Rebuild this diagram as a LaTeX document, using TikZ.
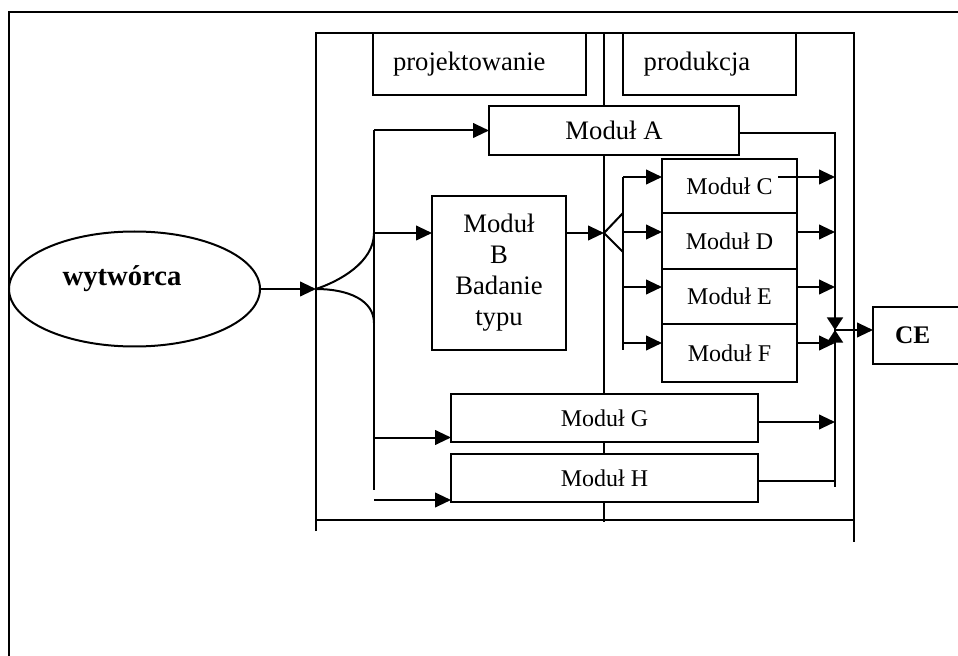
\documentclass[tikz,border=0pt]{standalone}
\usepackage{fontspec}
\setmainfont{Liberation Serif}
\usetikzlibrary{arrows.meta,shapes.geometric,positioning,calc}

\tikzset{
  modbox/.style={draw, fill=white, line width=1.5pt, inner sep=0pt, outer sep=0pt, font=\fontsize{20}{23.25}\selectfont},
  smallbox/.style={modbox, minimum width=101.25pt, font=\fontsize{18}{21}\selectfont},
  tri/.style={-{Triangle[length=12pt,width=11pt]}},
  bowtri/.style={-{Triangle[length=9.5pt,width=12pt]}},
}

\begin{document}
\begin{tikzpicture}[x=0.75pt,y=0.75pt,yscale=-1,xscale=1,line width=1.5pt]
\useasboundingbox (0,0) rectangle (958,656);
\clip (0,0) rectangle (958,656);

%Straight Lines: outer frame
\draw (9,656) -- (9,12.5) -- (958,12.5);
%Straight Lines: inner frame
\draw (316,531) -- (316,33) -- (854,33) -- (854,542);
\draw (316,520) -- (854,520);
\draw (604,33) -- (604,522);

%Shape: Rectangle (headers)
\node[modbox, minimum height=46.5pt, text width=129.75pt, inner xsep=15pt, align=left] (proj) at (479.5,64) {projektowanie};
\node[modbox, minimum height=46.5pt, text width=98.75pt, inner xsep=15.5pt, align=left] (prod) at (709.5,64) {produkcja};

%Shape: Rectangle (modules)
\node[modbox, minimum width=187.5pt, minimum height=36.75pt] (modA) at (614,130.5) {Moduł A};
\node[modbox, minimum width=100.5pt, minimum height=115.5pt, align=center] (modB) at (499,273) {Moduł\\B\\Badanie\\typu};
\node[smallbox, minimum height=40.5pt] (modC) at (729.5,186) {Moduł C};
\node[smallbox, minimum height=42pt, below=0pt of modC] (modD) {Moduł D};
\node[smallbox, minimum height=41.25pt, below=0pt of modD] (modE) {Moduł E};
\node[smallbox, minimum height=43.5pt, below=0pt of modE] (modF) {Moduł F};
\node[smallbox, minimum width=230.25pt, minimum height=36pt] (modG) at (604.5,418) {Moduł G};
\node[smallbox, minimum width=230.25pt, minimum height=36pt] (modH) at (604.5,478) {Moduł H};

%Shape: Rectangle (CE)
\node[modbox, anchor=west, minimum height=42.75pt, text width=60pt, inner xsep=16.5pt, align=left, font=\fontsize{19}{22}\selectfont\bfseries] (ce) at (873,335.5) {CE};

%Shape: Ellipse
\node[draw, ellipse, line width=1.5pt, inner sep=0pt, minimum width=188.25pt, minimum height=86.25pt] (wyt) at (134.5,289) {};
% Text Node
\node[font=\fontsize{21.5}{25}\selectfont\bfseries] (wytlbl) at (122,279) {wytwórca};

% coordinates of the buses
\coordinate (fork) at (316,289);
\coordinate (busLtop) at (374,130.5);
\coordinate (busL) at (374,233);
\coordinate (busLlow) at (374,323);
\coordinate (busLbot) at (374,490);
\coordinate (inG) at (374,437.5);
\coordinate (inH) at (374,500);
\coordinate (split) at (604,233);
\coordinate (splitU) at (623,213);
\coordinate (splitD) at (623,252);
\coordinate (busMtop) at (623,177);
\coordinate (busMbot) at (623,350);
\coordinate (join) at (835,330);
\coordinate (busRbot) at (835,487);

%Straight Lines: left side
\draw[tri] (wyt.east) -- (fork);
\draw (fork) .. controls (340,281) and (374,262) .. (busL);
\draw (fork) .. controls (348,289) and (374,300) .. (busLlow);
\draw (busLtop) -- (busLbot);
\draw[tri] (busLtop) -- (modA.west);
\draw[tri] (busL) -- (busL -| modB.west);
\draw[tri] (inG) -- (inG -| modG.west);
\draw[tri] (inH) -- (inH -| modH.west);

%Straight Lines: middle
\draw[tri] (busL -| modB.east) -- (split);
\draw (splitU) -- (split) -- (splitD);
\draw (busMtop) -- (busMbot);
\draw[tri] (busMtop) -- (busMtop -| modC.west);
\draw[tri] ($(modD.west)+(-39,-9)$) -- ($(modD.west)+(0,-9)$);
\draw[tri] ($(modE.west)+(-39,-9.5)$) -- ($(modE.west)+(0,-9.5)$);
\draw[tri] ($(modF.west)+(-39,-10)$) -- ($(modF.west)+(0,-10)$);

%Straight Lines: right side
\draw ($(modA.east)+(0,2.5)$) -| (busRbot);
\draw[tri] ($(modC.east)+(-19,-9)$) -- ($(modC.east)+(38,-9)$);
\draw[tri] ($(modD.east)+(0,-9)$) -- ($(modD.east)+(38,-9)$);
\draw[tri] ($(modE.east)+(0,-9.5)$) -- ($(modE.east)+(38,-9.5)$);
\draw[tri] ($(modF.east)+(0,-10)$) -- ($(modF.east)+(38,-10)$);
\draw[tri] ($(modG.east)+(0,4)$) -- ($(modG.east)+(77,4)$);
\draw ($(modH.east)+(0,3)$) -- ($(modH.east)+(77,3)$);
\draw[bowtri] ($(join)+(0,-14)$) -- (join);
\draw[bowtri] ($(join)+(0,14)$) -- (join);
\draw[tri] (join) -- (join -| ce.west);

\end{tikzpicture}
\end{document}
